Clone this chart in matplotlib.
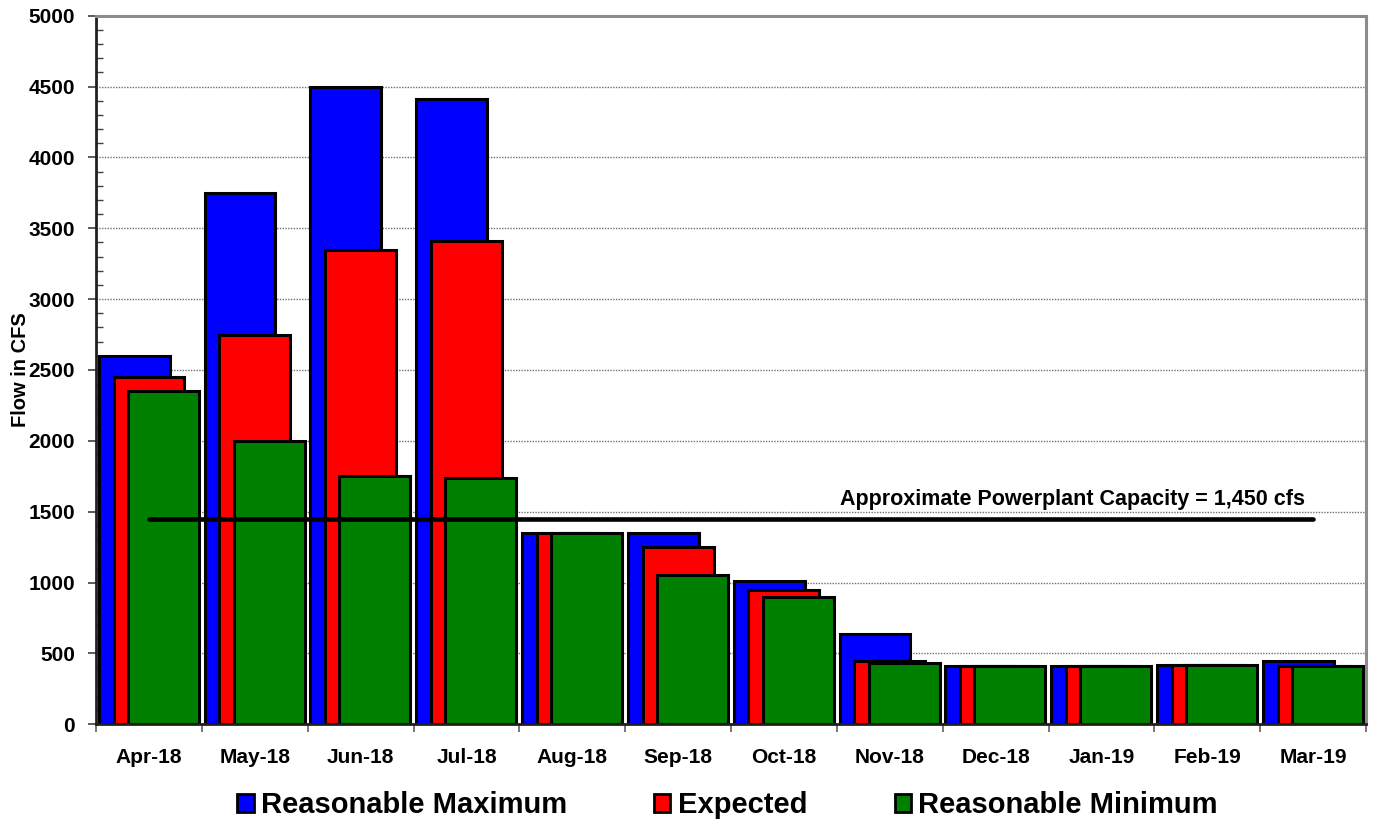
import matplotlib
matplotlib.use("Agg")
import matplotlib.pyplot as plt
from matplotlib.ticker import MultipleLocator, FixedLocator, NullFormatter
from matplotlib.patches import Patch
import numpy as np

plt.rcParams["font.family"] = ["Liberation Sans", "DejaVu Sans"]
plt.rcParams["font.weight"] = "bold"

# Monthly flow forecasts (cfs)
months = ["Apr-18", "May-18", "Jun-18", "Jul-18", "Aug-18", "Sep-18",
          "Oct-18", "Nov-18", "Dec-18", "Jan-19", "Feb-19", "Mar-19"]
reasonable_max = [2600, 3750, 4500, 4410, 1350, 1350, 1010, 640, 410, 410, 415, 450]
expected = [2450, 2750, 3350, 3410, 1350, 1250, 950, 450, 410, 410, 415, 410]
reasonable_min = [2350, 2000, 1750, 1740, 1350, 1050, 900, 430, 410, 410, 415, 410]
series_names = ["Reasonable Maximum", "Expected", "Reasonable Minimum"]
series_colors = ["#0000FF", "#FF0000", "#008000"]
capacity = 1450
capacity_label = "Approximate Powerplant Capacity = 1,450 cfs"

fig = plt.figure(figsize=(13.74, 8.27), dpi=100)
ax = fig.add_axes([0.0699, 0.1242, 0.9243, 0.8568])

x = np.arange(len(months))
width = 0.67
offsets = [-0.14, 0.0, 0.135]
for vals, off, col, name in zip([reasonable_max, expected, reasonable_min],
                                offsets, series_colors, series_names):
    ax.bar(x + off, vals, width=width, color=col, edgecolor="black",
           linewidth=2.2, label=name, zorder=2)

# Powerplant capacity line
ax.plot([x[0], x[-1]], [capacity, capacity], color="black", linewidth=3.3,
        solid_capstyle="round", zorder=5)
ax.text(10.92, capacity + 62, capacity_label, ha="right", va="bottom",
        fontsize=15.5, fontweight="bold", zorder=6)

ax.set_xlim(-0.5, len(months) - 0.5)
ax.set_ylim(0, 5000)

# y axis
ax.yaxis.set_major_locator(MultipleLocator(500))
ax.yaxis.set_minor_locator(MultipleLocator(100))
ax.tick_params(axis="y", which="major", direction="out", length=6, width=1.2,
               color="#404040", labelsize=15, pad=9)
ax.tick_params(axis="y", which="minor", direction="in", length=5, width=1,
               color="#404040")
ax.grid(axis="y", which="major", color="#707070", linestyle=(0, (1, 1)),
        linewidth=1.0)
ax.set_axisbelow(True)

# x axis: ticks at category boundaries, labels at centres
ax.xaxis.set_major_locator(FixedLocator(np.arange(-0.5, len(months), 1.0)))
ax.xaxis.set_major_formatter(NullFormatter())
ax.xaxis.set_minor_locator(FixedLocator(x))
ax.set_xticklabels(months, minor=True)
ax.tick_params(axis="x", which="major", direction="out", length=6, width=1.2,
               color="#606060")
ax.tick_params(axis="x", which="minor", length=0, labelsize=15, pad=17)
for lbl in ax.get_xticklabels(minor=True) + ax.get_yticklabels():
    lbl.set_fontweight("bold")

ax.set_ylabel("Flow in CFS", fontsize=14.5, fontweight="bold")
ax.yaxis.set_label_coords(-0.052, 0.5)

for side in ["left", "bottom"]:
    ax.spines[side].set_color("#202020")
    ax.spines[side].set_linewidth(2)
for side in ["top", "right"]:
    ax.spines[side].set_color("#8c8c8c")
    ax.spines[side].set_linewidth(2.2)

handles = [Patch(facecolor=c, edgecolor="black", linewidth=2) for c in series_colors]
leg = fig.legend(handles, series_names, loc="center", ncol=3,
                 bbox_to_anchor=(0.5295, 0.026), frameon=False,
                 prop={"size": 21, "weight": "bold"},
                 handlelength=0.55, handleheight=0.55, handletextpad=0.25,
                 columnspacing=3.0)

fig.savefig("out.png", dpi=100)
